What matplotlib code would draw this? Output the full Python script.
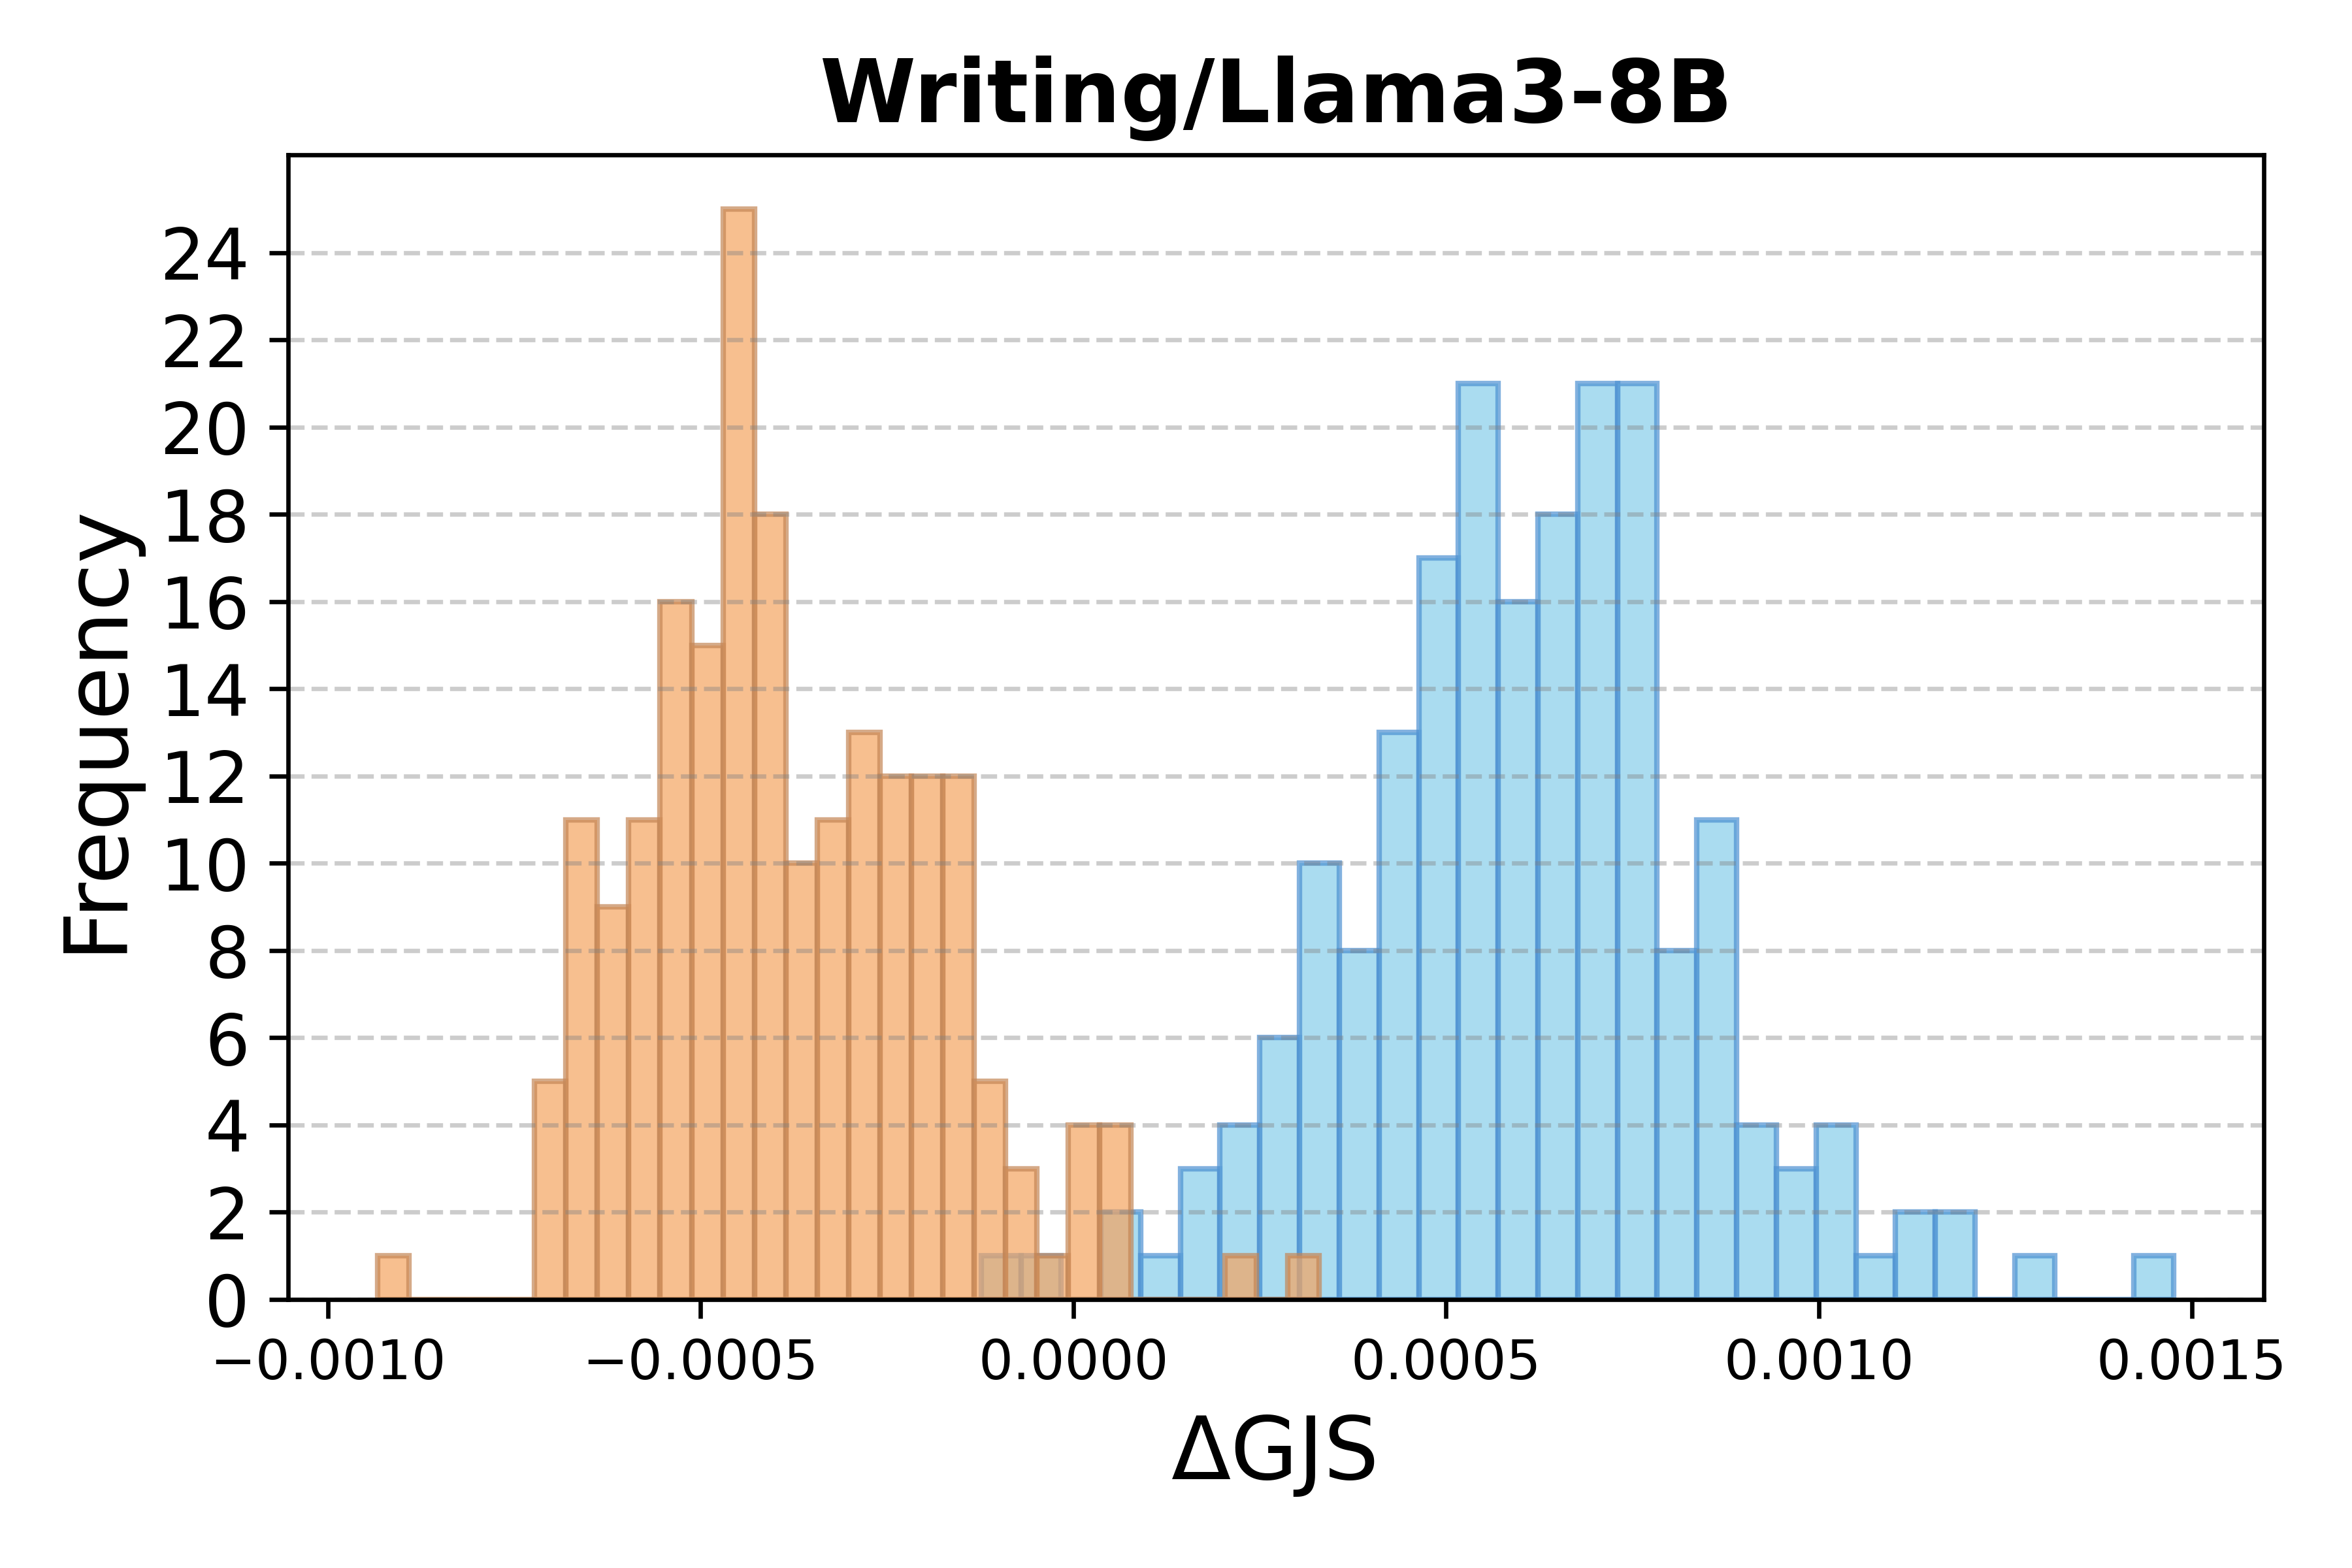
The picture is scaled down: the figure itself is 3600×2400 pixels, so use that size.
import numpy as np
import matplotlib
matplotlib.use('Agg')
import matplotlib.pyplot as plt

# histogram counts (30 bins each)
neg_counts = [1, 0, 0, 0, 0, 5, 11, 9, 11, 16, 15, 25, 18, 10, 11,
              13, 12, 12, 12, 5, 3, 1, 4, 4, 0, 0, 0, 1, 0, 1]
neg_range = (-0.000933, 0.000330)

pos_counts = [1, 1, 0, 2, 1, 3, 4, 6, 10, 8, 13, 17, 21, 16, 18,
              21, 21, 8, 11, 4, 3, 4, 1, 2, 2, 0, 1, 0, 0, 1]
pos_range = (-0.000123, 0.001476)

neg_edges = np.linspace(neg_range[0], neg_range[1], len(neg_counts) + 1)
pos_edges = np.linspace(pos_range[0], pos_range[1], len(pos_counts) + 1)

fig, ax = plt.subplots(figsize=(6, 4), dpi=600)
plt.subplots_adjust(left=0.1224, right=0.9624, top=0.9014, bottom=0.1713)

ax.hist(pos_edges[:-1], bins=pos_edges, weights=pos_counts, alpha=0.7,
        color='skyblue', edgecolor='#4d91d2', linewidth=1)
ax.hist(neg_edges[:-1], bins=neg_edges, weights=neg_counts, alpha=0.7,
        color='sandybrown', edgecolor='#c48656', linewidth=1)

ax.set_title('Writing/Llama3-8B', fontsize=16, fontweight='bold')
ax.set_xlabel('ΔGJS', fontsize=16)
ax.set_ylabel('Frequency', fontsize=16)
ax.set_yticks(range(0, 25, 2))
ax.tick_params(axis='x', labelsize=10)
ax.tick_params(axis='y', labelsize=13)
ax.grid(axis='y', linestyle='--', color='gray', alpha=0.4)

fig.savefig('out.png', dpi=600)
